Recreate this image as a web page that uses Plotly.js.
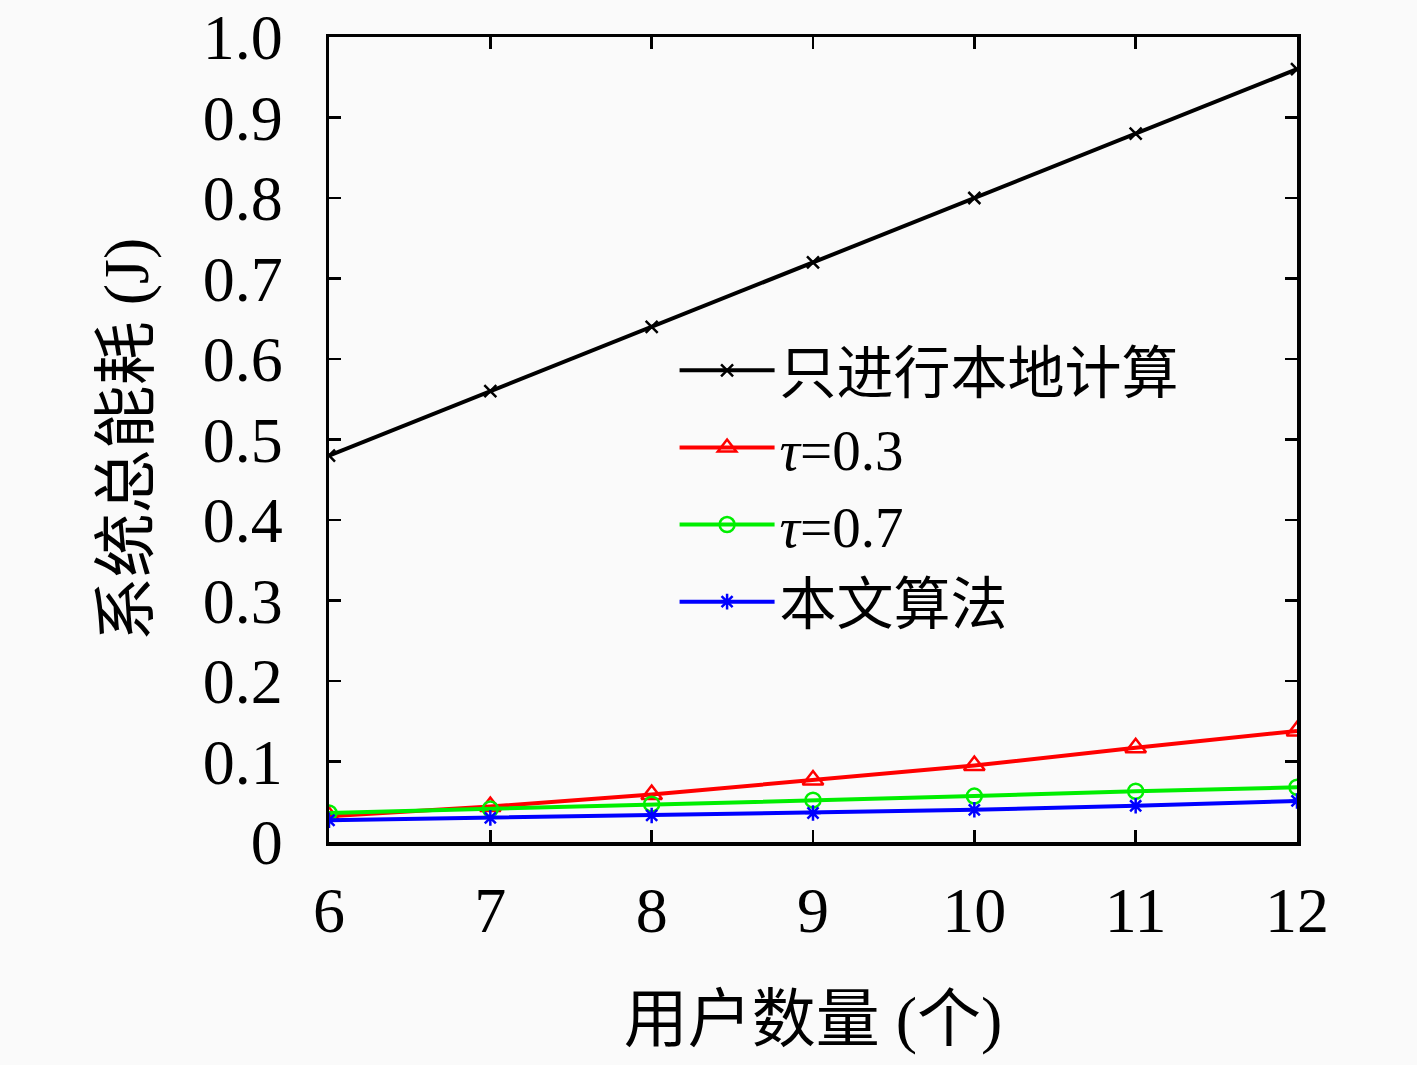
<!DOCTYPE html>
<html>
<head>
<meta charset="utf-8">
<script src="https://cdn.plot.ly/plotly-3.0.1.min.js"></script>
<style>
  html, body { margin: 0; padding: 0; background: #fafafa; }
  #chart { width: 1417px; height: 1065px; }
</style>
</head>
<body>
<div id="chart"></div>
<script>
// users on the x axis
var users = [6, 7, 8, 9, 10, 11, 12];

// total system energy (J)
var localOnly = [0.48, 0.56, 0.64, 0.72, 0.80, 0.88, 0.96];
var tau03 = [0.032, 0.044, 0.059, 0.077, 0.095, 0.117, 0.138];
var tau07 = [0.036, 0.041, 0.047, 0.052, 0.057, 0.063, 0.068];
var ours = [0.027, 0.030, 0.033, 0.036, 0.040, 0.045, 0.051];

var seriesNames = ['只进行本地计算', '<i>τ</i>=0.3', '<i>τ</i>=0.7', '本文算法'];

var yTicks = [0, 0.1, 0.2, 0.3, 0.4, 0.5, 0.6, 0.7, 0.8, 0.9, 1.0];
var yTickText = ['0', '0.1', '0.2', '0.3', '0.4', '0.5', '0.6', '0.7', '0.8', '0.9', '1.0'];

var serif = '"Liberation Serif", "DejaVu Serif", "Noto Sans CJK SC", serif';

function line(y, name, color, symbol, size) {
    return {
        x: users,
        y: y,
        name: name,
        type: 'scatter',
        mode: 'lines+markers',
        line: { color: color, width: 4 },
        marker: { symbol: symbol, size: size, color: color, line: { color: color, width: 2.5 } }
    };
}

var data = [
    line(localOnly, seriesNames[0], '#000000', 'x-thin', 12),
    line(tau03, seriesNames[1], '#ff0000', 'triangle-up-open', 18),
    line(tau07, seriesNames[2], '#00ee00', 'circle-open', 15),
    line(ours, seriesNames[3], '#0000ff', 'asterisk-open', 13)
];

var axisCommon = {
    showline: true,
    linecolor: '#000',
    linewidth: 3.5,
    mirror: 'ticks',
    ticks: 'inside',
    ticklen: 12,
    tickwidth: 2.5,
    tickcolor: '#000',
    showgrid: false,
    zeroline: false,
    tickfont: { family: serif, size: 64, color: '#000' }
};

var layout = {
    width: 1417,
    height: 1065,
    paper_bgcolor: '#fafafa',
    plot_bgcolor: '#fafafa',
    margin: { l: 329, r: 120, t: 37, b: 223 },
    showlegend: true,
    legend: {
        x: 0.357, y: 0.64, xanchor: 'left', yanchor: 'top',
        bgcolor: 'rgba(0,0,0,0)',
        font: { family: serif, size: 57, color: '#000' },
        itemwidth: 95,
        tracegroupgap: 0
    },
    xaxis: Object.assign({}, axisCommon, {
        range: [6, 12],
        tickvals: users,
        ticklabelstandoff: 10,
        title: { text: '用户数量 (个)', font: { family: serif, size: 64, color: '#000' }, standoff: 52 }
    }),
    yaxis: Object.assign({}, axisCommon, {
        range: [0, 1],
        tickvals: yTicks,
        ticktext: yTickText,
        ticklabelstandoff: 30,
        title: { text: '系统总能耗 (J)', font: { family: serif, size: 64, color: '#000' }, standoff: 34 }
    })
};

Plotly.newPlot('chart', data, layout, { staticPlot: true });
</script>
</body>
</html>
